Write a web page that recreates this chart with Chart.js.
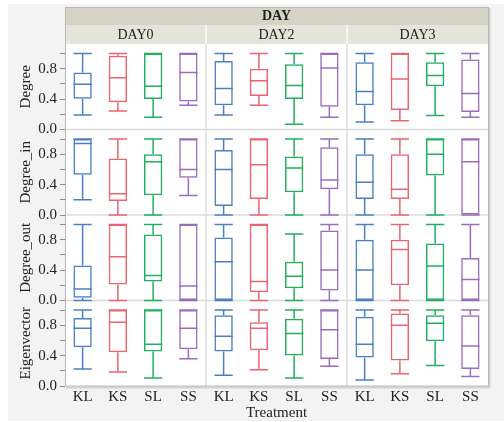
<!DOCTYPE html>
<html>
<head>
<meta charset="utf-8">
<script src="https://cdn.jsdelivr.net/npm/chart.js@4.4.1/dist/chart.umd.min.js"></script>
<style>
html,body{margin:0;padding:0;background:#fff;}
#wrap{width:504px;height:422px;position:relative;}
</style>
</head>
<body>
<div id="wrap"><canvas id="chart" width="504" height="422"></canvas></div>
<script>
const treatments = ['KL', 'KS', 'SL', 'SS'];
const days = ['DAY0', 'DAY2', 'DAY3'];
const measures = ['Degree', 'Degree_in', 'Degree_out', 'Eigenvector'];
const colors = ['#4b7fc3', '#ec6470', '#22b060', '#9b6bbd'];
const yTicks = [0, 0.2, 0.4, 0.6, 0.8, 1.0];
const yLabelled = [0, 0.4, 0.8];

// each box: [min, q1, median, q3, max], in treatment order KL KS SL SS
const degreeDay0 = [[0.19, 0.405, 0.595, 0.75, 1.0], [0.245, 0.36, 0.68, 0.97, 1.0], [0.16, 0.40, 0.57, 1.0, 1.0], [0.32, 0.37, 0.75, 1.0, 1.0]];
const degreeDay2 = [[0.19, 0.32, 0.54, 0.90, 1.0], [0.32, 0.44, 0.64, 0.80, 1.0], [0.07, 0.40, 0.58, 0.86, 1.0], [0.16, 0.30, 0.81, 1.0, 1.0]];
const degreeDay3 = [[0.10, 0.32, 0.50, 0.885, 1.0], [0.115, 0.255, 0.665, 1.0, 1.0], [0.185, 0.57, 0.71, 0.885, 1.0], [0.16, 0.23, 0.475, 0.92, 1.0]];

const degreeInDay0 = [[0.20, 0.53, 0.94, 1.0, 1.0], [0, 0.185, 0.28, 0.745, 1.0], [0, 0.26, 0.70, 0.80, 1.0], [0.255, 0.49, 0.60, 1.0, 1.0]];
const degreeInDay2 = [[0, 0.12, 0.60, 0.855, 1.0], [0, 0.21, 0.66, 1.0, 1.0], [0, 0.30, 0.62, 0.77, 1.0], [0, 0.34, 0.46, 0.89, 1.0]];
const degreeInDay3 = [[0, 0.21, 0.43, 0.80, 1.0], [0, 0.21, 0.34, 0.80, 1.0], [0, 0.52, 0.80, 1.0, 1.0], [0, 0, 0.70, 1.0, 1.0]];

const degreeOutDay0 = [[0, 0.035, 0.15, 0.46, 1.0], [0, 0.21, 0.575, 1.0, 1.0], [0, 0.25, 0.33, 0.87, 1.0], [0, 0, 0.19, 1.0, 1.0]];
const degreeOutDay2 = [[0, 0, 0.51, 0.83, 1.0], [0, 0.11, 0.25, 1.0, 1.0], [0, 0.16, 0.32, 0.51, 0.875], [0, 0.13, 0.40, 0.92, 1.0]];
const degreeOutDay3 = [[0, 0, 0.40, 0.80, 1.0], [0, 0.20, 0.67, 0.80, 1.0], [0, 0, 0.455, 0.75, 1.0], [0, 0, 0.275, 0.56, 1.0]];

const eigenDay0 = [[0.225, 0.51, 0.76, 0.895, 1.0], [0.185, 0.445, 0.84, 1.0, 1.0], [0.105, 0.455, 0.55, 1.0, 1.0], [0.36, 0.485, 0.76, 1.0, 1.0]];
const eigenDay2 = [[0.14, 0.455, 0.655, 0.93, 1.0], [0.215, 0.47, 0.76, 0.84, 1.0], [0.105, 0.40, 0.69, 0.885, 1.0], [0.26, 0.355, 0.74, 1.0, 1.0]];
const eigenDay3 = [[0.08, 0.375, 0.55, 0.91, 1.0], [0.16, 0.335, 0.80, 0.955, 1.0], [0.27, 0.59, 0.825, 0.93, 1.0], [0.125, 0.225, 0.525, 0.93, 1.0]];

// rows = measures, columns = days
const panels = [
  [degreeDay0, degreeDay2, degreeDay3],
  [degreeInDay0, degreeInDay2, degreeInDay3],
  [degreeOutDay0, degreeOutDay2, degreeOutDay3],
  [eigenDay0, eigenDay2, eigenDay3]
];

const serif = "'Liberation Serif', 'Times New Roman', serif";
const textColor = '#222';

let datasets = [];
panels.forEach((row, r) => {
  row.forEach((boxes, c) => {
    datasets.push({
      xAxisID: 'x' + c,
      yAxisID: 'y' + r,
      data: boxes.map(b => [b[1], b[3]]),
      stats: boxes,
      backgroundColor: 'rgba(255,255,255,0)',
      borderColor: colors,
      borderWidth: 1.5,
      borderSkipped: false,
      grouped: false,
      categoryPercentage: 1,
      barPercentage: 0.52
    });
  });
});

let scales = {};
days.forEach((d, c) => {
  scales['x' + c] = {
    type: 'category',
    position: 'bottom',
    stack: 'cols',
    offset: true,
    grid: {display: false, drawTicks: false},
    border: {display: false},
    ticks: {color: textColor, font: {family: serif, size: 15}, padding: 2, autoSkip: false, maxRotation: 0, minRotation: 0},
    title: {display: c == 1, text: 'Treatment', color: textColor, font: {family: serif, size: 15}, padding: 0},
    afterFit: s => { s.height = 36; }
  };
});
// left stack is laid out last-defined on top, so add the bottom row first
for (let r = measures.length - 1; r >= 0; r--) {
  scales['y' + r] = {
    type: 'linear',
    position: 'left',
    stack: 'rows',
    min: 0,
    max: 1.125,
    afterBuildTicks: s => { s.ticks = yTicks.map(v => ({value: v})); },
    grid: {display: true, drawOnChartArea: false, tickLength: 5, color: '#8a8a8a'},
    border: {display: false},
    ticks: {
      autoSkip: false,
      color: textColor,
      font: {family: serif, size: 15},
      padding: 3,
      callback: v => yLabelled.includes(v) ? v.toFixed(1) : ''
    },
    title: {display: true, text: measures[r], color: textColor, font: {family: serif, size: 15}, padding: {top: 9.5, bottom: 0}},
    afterFit: s => { s.width = 57; }
  };
}

const panelPlugin = {
  id: 'panels',
  beforeDraw(chart) {
    const {ctx, chartArea: a} = chart;
    ctx.save();
    ctx.fillStyle = '#f3f3f3';
    ctx.fillRect(8, 4, 496, 417);
    ctx.fillStyle = '#fff';
    ctx.fillRect(a.left, a.top, a.right - a.left, a.bottom - a.top);
    // header bands
    ctx.fillStyle = '#d5d3c6';
    ctx.fillRect(a.left, a.top - 37, a.right - a.left, 18);
    ctx.fillStyle = '#e4e3dc';
    ctx.fillRect(a.left, a.top - 19, a.right - a.left, 19);
    ctx.fillStyle = textColor;
    ctx.textAlign = 'center';
    ctx.textBaseline = 'middle';
    ctx.font = 'bold 14px ' + serif;
    ctx.fillText('DAY', (a.left + a.right) / 2, a.top - 28);
    ctx.font = '14px ' + serif;
    days.forEach((d, c) => {
      const s = chart.scales['x' + c];
      ctx.fillText(d, (s.left + s.right) / 2, a.top - 9);
      if (c > 0) {
        ctx.fillStyle = '#f7f7f2';
        ctx.fillRect(Math.round(s.left) - 1, a.top - 19, 2, 19);
        ctx.fillStyle = textColor;
      }
    });
    ctx.restore();
  },
  beforeDatasetsDraw(chart) {
    const {ctx, chartArea: a} = chart;
    ctx.save();
    ctx.strokeStyle = '#dcdcdc';
    ctx.lineWidth = 1.5;
    days.forEach((d, c) => {
      if (c == 0) return;
      const x = chart.scales['x' + c].left;
      ctx.beginPath();
      ctx.moveTo(x, a.top);
      ctx.lineTo(x, a.bottom);
      ctx.stroke();
    });
    measures.forEach((m, r) => {
      if (r == 0) return;
      const y = chart.scales['y' + r].top;
      ctx.beginPath();
      ctx.moveTo(a.left, y);
      ctx.lineTo(a.right, y);
      ctx.stroke();
    });
    ctx.restore();
  },
  afterDatasetsDraw(chart) {
    const ctx = chart.ctx;
    ctx.save();
    ctx.lineWidth = 1.5;
    chart.data.datasets.forEach((ds, i) => {
      const meta = chart.getDatasetMeta(i);
      const ys = chart.scales[ds.yAxisID];
      meta.data.forEach((el, j) => {
        const [mn, q1, med, q3, mx] = ds.stats[j];
        const x = el.x, hw = el.width / 2;
        const py = v => ys.getPixelForValue(v);
        ctx.strokeStyle = colors[j];
        ctx.beginPath();
        if (mx > q3) {
          ctx.moveTo(x, py(q3)); ctx.lineTo(x, py(mx));
        }
        if (mn < q1) {
          ctx.moveTo(x, py(q1)); ctx.lineTo(x, py(mn));
        }
        // caps
        ctx.moveTo(x - hw, py(mx)); ctx.lineTo(x + hw, py(mx));
        ctx.moveTo(x - hw, py(mn)); ctx.lineTo(x + hw, py(mn));
        // median
        ctx.moveTo(x - hw, py(med)); ctx.lineTo(x + hw, py(med));
        ctx.stroke();
      });
    });
    ctx.restore();
  },
  afterDraw(chart) {
    const {ctx, chartArea: a} = chart;
    ctx.save();
    ctx.strokeStyle = '#d2d2d2';
    ctx.lineWidth = 2;
    ctx.beginPath();
    ctx.moveTo(a.right + 1.5, a.top - 36);
    ctx.lineTo(a.right + 1.5, a.bottom + 1.5);
    ctx.lineTo(a.left + 1, a.bottom + 1.5);
    ctx.stroke();
    ctx.strokeStyle = '#b8b8b8';
    ctx.lineWidth = 1;
    ctx.strokeRect(a.left + 0.5, a.top - 36.5, a.right - a.left, a.bottom - a.top + 36.5);
    ctx.restore();
  }
};

new Chart(document.getElementById('chart'), {
  type: 'bar',
  data: {labels: treatments, datasets: datasets},
  options: {
    responsive: false,
    animation: false,
    layout: {padding: {top: 44, right: 16, bottom: 0, left: 8}},
    plugins: {legend: {display: false}, tooltip: {enabled: false}},
    scales: scales
  },
  plugins: [panelPlugin]
});
</script>
</body>
</html>
